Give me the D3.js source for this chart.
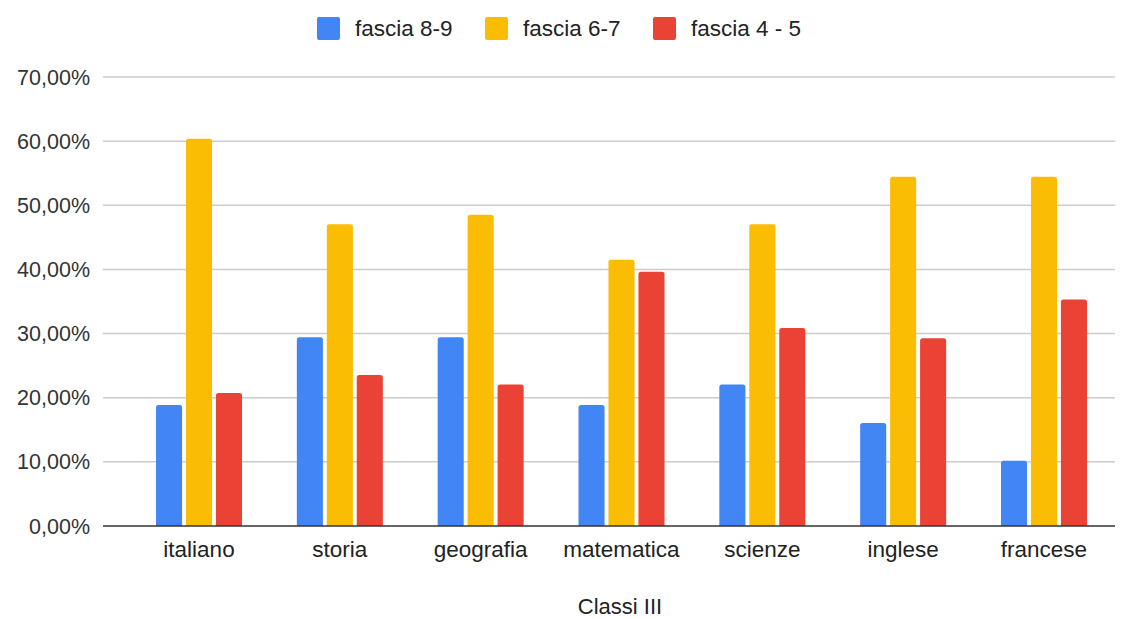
<!DOCTYPE html>
<html><head><meta charset="utf-8">
<script src="https://cdn.jsdelivr.net/npm/d3@7"></script>
<style>body{margin:0;background:#fff;}svg{display:block;font-family:"Liberation Sans", Arial, sans-serif;}</style>
</head><body>
<svg id="c" width="1129" height="619"></svg>
<script>
const categories = ["italiano","storia","geografia","matematica","scienze","inglese","francese"];
const seriesNames = ["fascia 8-9","fascia 6-7","fascia 4 - 5"];
const fascia89 = [18.87, 29.41, 29.41, 18.87, 22.06, 16.07, 10.17];
const fascia67 = [60.38, 47.06, 48.53, 41.51, 47.06, 54.46, 54.46];
const fascia45 = [20.75, 23.53, 22.06, 39.62, 30.88, 29.29, 35.32];
const yTicks = [0,10,20,30,40,50,60,70];
const colors = ["#4285F4","#FBBC04","#EA4335"];
const xTitle = "Classi III";

const series = [fascia89, fascia67, fascia45];
const svg = d3.select("#c");
const gridL = 103, gridR = 1115, bandL = 128.6, bandR = 1114.4;
const y = d3.scaleLinear().domain([0,70]).range([526,77]);
const x = d3.scaleBand().domain(categories).range([bandL,bandR]).paddingInner(0).paddingOuter(0);
const inner = d3.scaleBand().domain(d3.range(3)).range([0,86]).paddingInner(0.13);

// grid
svg.append("g").selectAll("line").data(yTicks.filter(d=>d>0)).join("line")
  .attr("x1",gridL).attr("x2",gridR).attr("y1",d=>y(d)).attr("y2",d=>y(d))
  .attr("stroke","#cccccc").attr("stroke-width",1.5);
// y labels
svg.append("g").selectAll("text").data(yTicks).join("text")
  .attr("x",90).attr("y",d=>y(d)).attr("dy","0.35em").attr("text-anchor","end")
  .attr("font-size",21.5).attr("fill","#333")
  .text(d=>d.toFixed(2).replace(".",",")+"%");

// bars
const groups = svg.append("g").selectAll("g").data(categories).join("g")
  .attr("transform",d=>`translate(${x(d)+x.bandwidth()/2-43},0)`);
groups.selectAll("path").data((c,i)=>series.map((s,k)=>({k,v:s[i]}))).join("path")
  .attr("fill",d=>colors[d.k])
  .attr("d",d=>{
    const x0 = inner(d.k), w = inner.bandwidth(), y0 = y(d.v), yb = y(0), r = 2.5;
    return `M${x0},${yb}V${y0+r}Q${x0},${y0} ${x0+r},${y0}H${x0+w-r}Q${x0+w},${y0} ${x0+w},${y0+r}V${yb}Z`;
  });

// baseline
svg.append("line").attr("x1",gridL).attr("x2",gridR).attr("y1",y(0)).attr("y2",y(0))
  .attr("stroke","#333").attr("stroke-width",1.5);

// x labels
svg.append("g").selectAll("text").data(categories).join("text")
  .attr("x",d=>x(d)+x.bandwidth()/2).attr("y",557).attr("text-anchor","middle")
  .attr("font-size",22.5).attr("fill","#222").text(d=>d);

svg.append("text").attr("x",620).attr("y",614).attr("text-anchor","middle")
  .attr("font-size",22).attr("fill","#222").text(xTitle);

// legend
const legX = [317, 485, 653];
const leg = svg.append("g").selectAll("g").data(seriesNames).join("g")
  .attr("transform",(d,i)=>`translate(${legX[i]},17)`);
leg.append("rect").attr("width",23).attr("height",23).attr("rx",2).attr("fill",(d,i)=>colors[i]);
leg.append("text").attr("x",38).attr("y",11.5).attr("dy","0.35em").attr("font-size",22.5).attr("fill","#222").text(d=>d);
</script>
</body></html>
